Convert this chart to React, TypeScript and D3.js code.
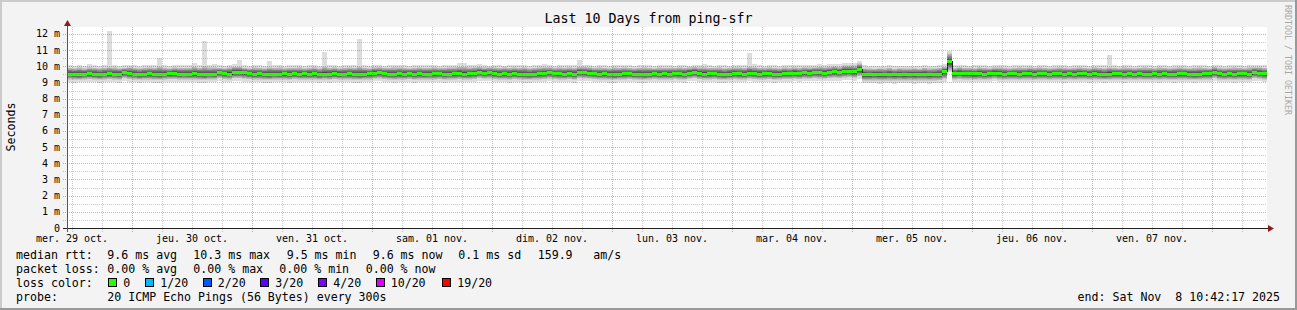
import React from 'react';
import * as d3 from 'd3';

const HOUR = 3600 * 1000;
const startMs = Date.UTC(2025, 9, 29, 11);
const endMs = Date.UTC(2025, 10, 8, 11);

const title = 'Last 10 Days from ping-sfr';
const yAxisTitle = 'Seconds';
const watermark = 'RRDTOOL / TOBI OETIKER';
const dayLabels = ['mer. 29 oct.', 'jeu. 30 oct.', 'ven. 31 oct.', 'sam. 01 nov.', 'dim. 02 nov.', 'lun. 03 nov.', 'mar. 04 nov.', 'mer. 05 nov.', 'jeu. 06 nov.', 'ven. 07 nov.'];
const yTickValues = [0, 1, 2, 3, 4, 5, 6, 7, 8, 9, 10, 11, 12];
const yTickLabels = ['0', '1 m', '2 m', '3 m', '4 m', '5 m', '6 m', '7 m', '8 m', '9 m', '10 m', '11 m', '12 m'];

// hourly medians (ms), 240 columns, one row per day
const median = [
  9.52,9.52,9.50,9.52,9.53,9.52,9.50,9.52,9.53,9.52,9.52,9.63,9.55,9.52,9.50,9.52,9.53,9.52,9.50,9.52,9.53,9.55,9.52,9.52,
  9.52,9.53,9.52,9.50,9.52,9.52,9.64,9.55,9.52,9.64,9.64,9.60,9.55,9.52,9.53,9.52,9.50,9.52,9.52,9.53,9.52,9.55,9.52,9.53,
  9.52,9.53,9.50,9.52,9.52,9.55,9.52,9.52,9.53,9.52,9.50,9.52,9.53,9.58,9.60,9.55,9.52,9.52,9.53,9.52,9.55,9.52,9.53,9.52,
  9.52,9.53,9.55,9.52,9.52,9.53,9.55,9.52,9.53,9.55,9.62,9.58,9.60,9.55,9.52,9.53,9.52,9.55,9.52,9.52,9.50,9.52,9.53,9.55,
  9.60,9.55,9.53,9.52,9.55,9.52,9.62,9.60,9.58,9.55,9.52,9.53,9.52,9.50,9.52,9.53,9.55,9.52,9.52,9.50,9.52,9.55,9.52,9.53,
  9.52,9.55,9.53,9.52,9.58,9.62,9.55,9.52,9.53,9.55,9.52,9.50,9.52,9.55,9.53,9.52,9.58,9.55,9.52,9.53,9.55,9.52,9.52,9.55,
  9.55,9.58,9.55,9.60,9.58,9.62,9.60,9.58,9.62,9.65,9.62,9.68,9.70,9.65,9.80,9.48,9.48,9.50,9.48,9.48,9.50,9.48,9.50,9.48,
  9.50,9.48,9.50,9.50,9.48,9.50,9.52,9.67,10.30,9.55,9.58,9.55,9.55,9.53,9.55,9.52,9.55,9.58,9.55,9.52,9.53,9.55,9.52,9.55,
  9.55,9.52,9.53,9.55,9.52,9.55,9.53,9.52,9.55,9.52,9.55,9.53,9.52,9.55,9.52,9.50,9.52,9.53,9.55,9.52,9.53,9.52,9.55,9.52,
  9.52,9.53,9.52,9.55,9.52,9.52,9.53,9.55,9.52,9.50,9.52,9.53,9.55,9.62,9.55,9.52,9.55,9.52,9.53,9.55,9.52,9.62,9.58,9.55,
];

// highest ping (ms)
const ping20 = [
  10.05,10.02,10.08,10.00,10.16,10.05,10.02,10.05,12.16,10.08,10.02,10.05,10.10,10.05,10.02,10.05,10.08,10.05,10.53,10.05,10.02,10.08,10.05,10.05,
  10.05,10.22,10.05,11.58,10.08,10.12,10.05,10.02,10.08,10.16,10.39,10.05,10.02,10.08,10.05,10.02,10.30,10.05,10.08,10.02,10.05,10.05,10.08,10.02,
  10.05,10.08,10.02,10.88,10.05,10.10,10.02,10.05,10.08,10.05,11.69,10.05,10.02,10.08,10.05,10.02,10.05,10.08,10.10,10.05,10.02,10.05,10.08,10.05,
  10.05,10.08,10.02,10.05,10.10,10.08,10.20,10.18,10.05,10.08,10.12,10.05,10.02,10.08,10.05,10.02,10.05,10.08,10.05,10.10,10.02,10.05,10.08,10.15,
  10.05,10.02,10.08,10.05,10.10,10.05,10.40,10.08,10.05,10.02,10.08,10.05,10.02,10.10,10.05,10.08,10.05,10.02,10.05,10.08,10.05,10.02,10.08,10.05,
  10.05,10.02,10.08,10.05,10.02,10.05,10.10,10.12,10.05,10.02,10.08,10.05,10.02,10.05,10.08,10.05,10.80,10.15,10.05,10.02,10.08,10.05,10.02,10.08,
  10.05,10.08,10.05,10.10,10.08,10.10,10.12,10.10,10.12,10.15,10.12,10.18,10.20,10.22,10.35,10.05,10.02,10.00,10.04,10.02,10.06,10.00,10.04,10.02,
  10.02,10.04,10.00,10.05,10.02,10.04,10.05,10.12,10.95,10.05,10.08,10.05,10.02,10.05,10.08,10.05,10.02,10.05,10.08,10.05,10.02,10.05,10.08,10.05,
  10.05,10.02,10.08,10.05,10.02,10.05,10.08,10.05,10.02,10.05,10.08,10.05,10.02,10.05,10.08,10.05,10.72,10.05,10.02,10.08,10.05,10.02,10.05,10.08,
  10.05,10.02,10.08,10.05,10.02,10.05,10.08,10.05,10.02,10.05,10.08,10.05,10.02,10.10,10.05,10.02,10.05,10.08,10.05,10.02,10.08,10.05,10.08,10.05,
];

// second highest ping (ms)
const ping19 = [
  9.92,9.90,9.94,9.88,9.95,9.92,9.90,9.92,9.96,9.94,9.90,9.92,9.96,9.92,9.90,9.92,9.94,9.92,9.98,9.92,9.90,9.94,9.92,9.92,
  9.92,9.98,9.92,10.00,9.94,9.95,9.92,9.90,9.96,9.98,9.98,9.92,9.90,9.94,9.92,9.90,9.96,9.92,9.94,9.90,9.92,9.92,9.94,9.90,
  9.92,9.94,9.90,9.98,9.92,9.95,9.90,9.92,9.94,9.92,9.98,9.92,9.90,9.94,9.96,9.92,9.92,9.94,9.95,9.92,9.90,9.92,9.94,9.92,
  9.92,9.94,9.92,9.92,9.95,9.94,9.98,9.98,9.94,9.96,9.98,9.94,9.96,9.94,9.92,9.94,9.92,9.94,9.92,9.95,9.90,9.92,9.94,9.96,
  9.96,9.92,9.94,9.92,9.95,9.92,9.98,9.98,9.96,9.92,9.94,9.92,9.90,9.95,9.92,9.94,9.92,9.90,9.92,9.94,9.92,9.90,9.94,9.92,
  9.92,9.92,9.94,9.92,9.94,9.98,9.94,9.96,9.92,9.92,9.94,9.90,9.92,9.94,9.94,9.92,9.98,9.96,9.92,9.92,9.94,9.92,9.90,9.94,
  9.92,9.94,9.92,9.96,9.94,9.96,9.98,9.96,9.98,10.02,9.98,10.05,10.06,10.05,10.18,9.90,9.88,9.86,9.90,9.88,9.92,9.86,9.90,9.88,
  9.88,9.90,9.86,9.92,9.88,9.90,9.92,9.98,10.82,9.92,9.96,9.92,9.92,9.90,9.94,9.92,9.90,9.94,9.94,9.92,9.90,9.92,9.94,9.92,
  9.94,9.92,9.94,9.92,9.90,9.92,9.94,9.92,9.90,9.92,9.94,9.92,9.90,9.94,9.92,9.90,9.96,9.92,9.90,9.94,9.92,9.90,9.92,9.94,
  9.92,9.90,9.94,9.92,9.90,9.92,9.94,9.92,9.90,9.92,9.94,9.92,9.90,9.98,9.92,9.90,9.92,9.94,9.92,9.90,9.94,9.96,9.96,9.92,
];

// second lowest ping (ms)
const ping2 = [
  9.18,9.16,9.15,9.18,9.20,9.17,9.15,9.18,9.20,9.18,9.16,9.25,9.20,9.18,9.15,9.17,9.18,9.16,9.15,9.18,9.20,9.20,9.17,9.18,
  9.17,9.18,9.16,9.15,9.18,9.17,9.26,9.20,9.18,9.26,9.25,9.22,9.20,9.17,9.18,9.16,9.15,9.18,9.17,9.18,9.16,9.20,9.17,9.18,
  9.17,9.18,9.15,9.18,9.16,9.20,9.17,9.18,9.18,9.16,9.15,9.17,9.18,9.22,9.24,9.20,9.17,9.16,9.18,9.17,9.20,9.16,9.18,9.17,
  9.18,9.17,9.20,9.16,9.18,9.17,9.20,9.17,9.18,9.20,9.25,9.22,9.24,9.20,9.17,9.18,9.16,9.20,9.17,9.16,9.15,9.17,9.18,9.20,
  9.24,9.20,9.18,9.17,9.20,9.16,9.25,9.24,9.22,9.20,9.17,9.18,9.16,9.15,9.17,9.18,9.20,9.17,9.16,9.15,9.17,9.20,9.17,9.18,
  9.17,9.20,9.18,9.16,9.22,9.25,9.20,9.17,9.18,9.20,9.16,9.15,9.17,9.20,9.18,9.17,9.22,9.20,9.17,9.18,9.20,9.16,9.17,9.20,
  9.20,9.22,9.20,9.24,9.22,9.25,9.24,9.22,9.26,9.28,9.26,9.30,9.32,9.28,9.38,9.12,9.11,9.12,9.10,9.11,9.12,9.10,9.12,9.11,
  9.12,9.10,9.12,9.12,9.10,9.12,9.13,9.20,9.72,9.18,9.20,9.18,9.18,9.16,9.18,9.16,9.18,9.22,9.18,9.16,9.17,9.18,9.16,9.18,
  9.18,9.16,9.17,9.18,9.16,9.18,9.17,9.16,9.18,9.16,9.18,9.17,9.16,9.18,9.16,9.15,9.16,9.17,9.18,9.16,9.17,9.16,9.18,9.16,
  9.16,9.17,9.16,9.18,9.16,9.16,9.17,9.18,9.16,9.15,9.16,9.17,9.18,9.25,9.18,9.16,9.18,9.16,9.17,9.18,9.16,9.25,9.22,9.18,
];

// lowest ping (ms)
const ping1 = [
  9.02,8.98,9.00,9.03,9.05,9.00,8.98,9.02,9.04,9.00,8.98,9.08,9.03,9.00,8.97,9.00,9.02,8.98,8.97,9.02,9.04,9.03,9.00,9.02,
  9.00,9.02,8.98,8.97,9.02,9.00,9.10,9.03,9.00,9.10,9.08,9.05,9.03,9.00,9.02,8.98,8.97,9.02,9.00,9.02,8.98,9.04,9.00,9.02,
  9.00,9.02,8.97,9.02,8.98,9.04,9.00,9.02,9.02,8.98,8.97,9.00,9.02,9.06,9.08,9.04,9.00,8.98,9.02,9.00,9.04,8.98,9.02,9.00,
  9.02,9.00,9.04,8.98,9.02,9.00,9.04,9.00,9.02,9.04,9.10,9.06,9.08,9.04,9.00,9.02,8.98,9.04,9.00,8.98,8.97,9.00,9.02,9.04,
  9.08,9.04,9.02,9.00,9.04,8.98,9.10,9.08,9.06,9.04,9.00,9.02,8.98,8.97,9.00,9.02,9.04,9.00,8.98,8.97,9.00,9.04,9.00,9.02,
  9.00,9.04,9.02,8.98,9.06,9.10,9.04,9.00,9.02,9.04,8.98,8.97,9.00,9.04,9.02,9.00,9.06,9.04,9.00,9.02,9.04,8.98,9.00,9.04,
  9.04,9.06,9.04,9.08,9.06,9.10,9.08,9.06,9.10,9.12,9.10,9.14,9.16,9.12,9.22,8.96,8.94,8.96,8.93,8.94,8.96,8.93,8.96,8.94,
  8.96,8.93,8.96,8.96,8.93,8.96,8.97,9.02,9.62,9.02,9.04,9.02,9.02,9.00,9.02,9.00,9.02,9.06,9.02,9.00,9.00,9.02,9.00,9.02,
  9.02,9.00,9.00,9.02,9.00,9.02,9.00,8.98,9.02,9.00,9.02,9.00,8.98,9.02,9.00,8.97,9.00,9.00,9.02,8.98,9.00,9.00,9.02,9.00,
  9.00,9.00,8.98,9.02,9.00,8.98,9.00,9.02,9.00,8.97,9.00,9.00,9.02,9.08,9.02,9.00,9.02,8.98,9.00,9.02,9.00,9.08,9.06,9.02,
];

const statsRow1 = ['median rtt:', '9.6 ms avg', '10.3 ms max', '9.5 ms min', '9.6 ms now', '0.1 ms sd', '159.9', 'am/s'];
const statsRow2 = ['packet loss:', '0.00 % avg', '0.00 % max', '0.00 % min', '0.00 % now'];
const lossLabels = ['0', '1/20', '2/20', '3/20', '4/20', '10/20', '19/20'];
const lossColors = ['#26ff00', '#00b8ff', '#0059ff', '#5e00ff', '#7e00ff', '#dd00ff', '#ff0000'];
const probeRow = ['probe:', '20 ICMP Echo Pings (56 Bytes) every 300s'];
const endText = 'end: Sat Nov  8 10:42:17 2025';

const W = 1297;
const H = 310;
const FONT = 'DejaVu Sans Mono, monospace';

const row1X = [16, 107.3, 193.3, 286.7, 372.7, 458.3, 537.7, 593.3];
const row2X = [16, 107.3, 193.3, 279.3, 365.7];
const lossBoxX = [108.5, 145.5, 203, 260.5, 318.5, 376, 442.5];

export default function App() {
  const x = d3.scaleUtc().domain([new Date(startMs), new Date(endMs)]).range([67, 1267]);
  const y = d3.scaleLinear().domain([0, 12.43]).range([228, 27]);

  const cols = median.map((m, i) => ({
    x0: x(new Date(startMs + i * HOUR)),
    x1: x(new Date(startMs + (i + 1) * HOUR)),
    med: m,
    p1: ping1[i],
    p2: ping2[i],
    p19: ping19[i],
    p20: ping20[i],
  }));

  // smoke layers: outer pair lightest, inner darker (smokeping style)
  const layers: { color: string; lo: (c: any) => number; hi: (c: any) => number }[] = [];
  for (let k = 1; k <= 10; k++) {
    const g = Math.floor((190 / 10) * (10 - k)) + 50;
    const hex = g.toString(16).padStart(2, '0');
    const color = '#' + hex + hex + hex;
    if (k === 1) {
      layers.push({ color, lo: (c) => c.p1, hi: (c) => c.p20 });
    } else {
      const f = (k - 2) / 9;
      layers.push({
        color,
        lo: (c) => c.p2 + (c.med - c.p2) * f,
        hi: (c) => c.p19 - (c.p19 - c.med) * f,
      });
    }
  }

  const sixHourTicks = x.ticks(d3.utcHour.every(6)!);
  const minorV = sixHourTicks.filter((d) => d.getUTCHours() !== 0);
  const majorV = x.ticks(d3.utcDay.every(1)!);
  const minorH = d3.range(0.5, 12.5, 1);
  const majorH = yTickValues.filter((v) => v > 0);

  const medianLine = d3
    .line<any>()
    .x((d) => d.x)
    .y((d) => d.y)
    .curve(d3.curveStepAfter)(
    [...cols.map((c) => ({ x: c.x0, y: y(c.med) })), { x: cols[cols.length - 1].x1, y: y(cols[cols.length - 1].med) }]
  );

  const firstDayNoon = Date.UTC(2025, 9, 29, 12);
  const pre = { whiteSpace: 'pre' as const };

  return (
    <svg width={W} height={H} style={{ position: 'absolute', left: 0, top: 0, display: 'block' }} fontFamily={FONT}>
      <rect x={0} y={0} width={W} height={H} fill="#f3f3f3" />
      {/* frame */}
      <rect x={0} y={0} width={W} height={2} fill="#cbcbcb" />
      <rect x={0} y={0} width={2} height={H} fill="#cbcbcb" />
      <rect x={0} y={H - 2} width={W} height={2} fill="#999999" />
      <rect x={W - 2} y={0} width={2} height={H} fill="#999999" />

      {/* canvas */}
      <rect x={67} y={27} width={1200} height={201} fill="#ffffff" />

      {/* smoke */}
      <g shapeRendering="crispEdges">
        {layers.map((L, li) => (
          <g key={li} fill={L.color}>
            {cols.map((c, i) => {
              const top = y(L.hi(c));
              const bot = y(L.lo(c));
              return <rect key={i} x={c.x0} y={top} width={c.x1 - c.x0} height={Math.max(0, bot - top)} />;
            })}
          </g>
        ))}
      </g>

      {/* median line */}
      <path d={medianLine || ''} fill="none" stroke="#202020" strokeWidth={1} shapeRendering="crispEdges" />
      <g stroke={lossColors[0]} strokeWidth={3} shapeRendering="crispEdges">
        {cols.map((c, i) => (
          <line key={i} x1={c.x0} x2={c.x1} y1={y(c.med)} y2={y(c.med)} />
        ))}
      </g>

      {/* grid */}
      <g strokeDasharray="1,1" shapeRendering="crispEdges">
        {minorH.map((v) => (
          <line key={'mh' + v} x1={63} x2={1267} y1={Math.round(y(v)) + 0.5} y2={Math.round(y(v)) + 0.5} stroke="#8c8c8c" strokeOpacity={0.45} />
        ))}
        {minorV.map((d) => (
          <line key={'mv' + d.getTime()} x1={Math.round(x(d)) + 0.5} x2={Math.round(x(d)) + 0.5} y1={27} y2={232} stroke="#8c8c8c" strokeOpacity={0.45} />
        ))}
        {majorH.map((v) => (
          <line key={'Mh' + v} x1={63} x2={1267} y1={Math.round(y(v)) + 0.5} y2={Math.round(y(v)) + 0.5} stroke="#e03030" strokeOpacity={0.45} />
        ))}
        {majorV.map((d) => (
          <line key={'Mv' + d.getTime()} x1={Math.round(x(d)) + 0.5} x2={Math.round(x(d)) + 0.5} y1={27} y2={232} stroke="#e03030" strokeOpacity={0.45} />
        ))}
      </g>

      {/* axes */}
      <g shapeRendering="crispEdges">
        <line x1={63} x2={1270} y1={228.5} y2={228.5} stroke="#222" />
        <line x1={67.5} x2={67.5} y1={232} y2={24} stroke="#555" />
      </g>
      <path d="M64,26 L71,26 L67.5,20 Z" fill="#8b1a1a" />
      <path d="M1268,225 L1268,232 L1274,228.5 Z" fill="#8b1a1a" />

      {/* y labels */}
      <g fontSize={10} textAnchor="end" fill="#000">
        {yTickValues.map((v, i) => (
          <text key={v} x={60} y={y(v) + 3.5} xmlSpace="preserve" style={pre}>
            {yTickLabels[i]}
          </text>
        ))}
      </g>

      {/* x labels */}
      <g fontSize={10} textAnchor="middle" fill="#000">
        {dayLabels.map((l, i) => (
          <text key={l + i} x={x(new Date(firstDayNoon + i * 24 * HOUR))} y={241.5} xmlSpace="preserve" style={pre}>
            {l}
          </text>
        ))}
      </g>

      {/* title */}
      <text x={648.5} y={22.5} fontSize={13.3} textAnchor="middle" fill="#000">
        {title}
      </text>
      <text transform="translate(14.5,127) rotate(-90)" fontSize={11.6} textAnchor="middle" fill="#000">
        {yAxisTitle}
      </text>
      <text transform="translate(1284.5,5) rotate(90)" fontSize={8.3} fill="#a8a8a8">
        {watermark}
      </text>

      {/* legend */}
      <g fontSize={11.6} fill="#000">
        {statsRow1.map((t, i) => (
          <text key={'r1' + i} x={row1X[i]} y={258.5} xmlSpace="preserve" style={pre}>{t}</text>
        ))}
        {statsRow2.map((t, i) => (
          <text key={'r2' + i} x={row2X[i]} y={272.5} xmlSpace="preserve" style={pre}>{t}</text>
        ))}
        <text x={16} y={286.5}>loss color:</text>
        {lossLabels.map((t, i) => (
          <g key={'lc' + i}>
            <rect x={lossBoxX[i]} y={278.5} width={8} height={8} fill={lossColors[i]} stroke="#000" strokeWidth={1} shapeRendering="crispEdges" />
            <text x={lossBoxX[i] + 14.7} y={286.5}>{t}</text>
          </g>
        ))}
        <text x={16} y={300.5}>{probeRow[0]}</text>
        <text x={107.3} y={300.5} xmlSpace="preserve" style={pre}>{probeRow[1]}</text>
        <text x={1280} y={300.5} textAnchor="end" xmlSpace="preserve" style={pre}>{endText}</text>
      </g>
    </svg>
  );
}
